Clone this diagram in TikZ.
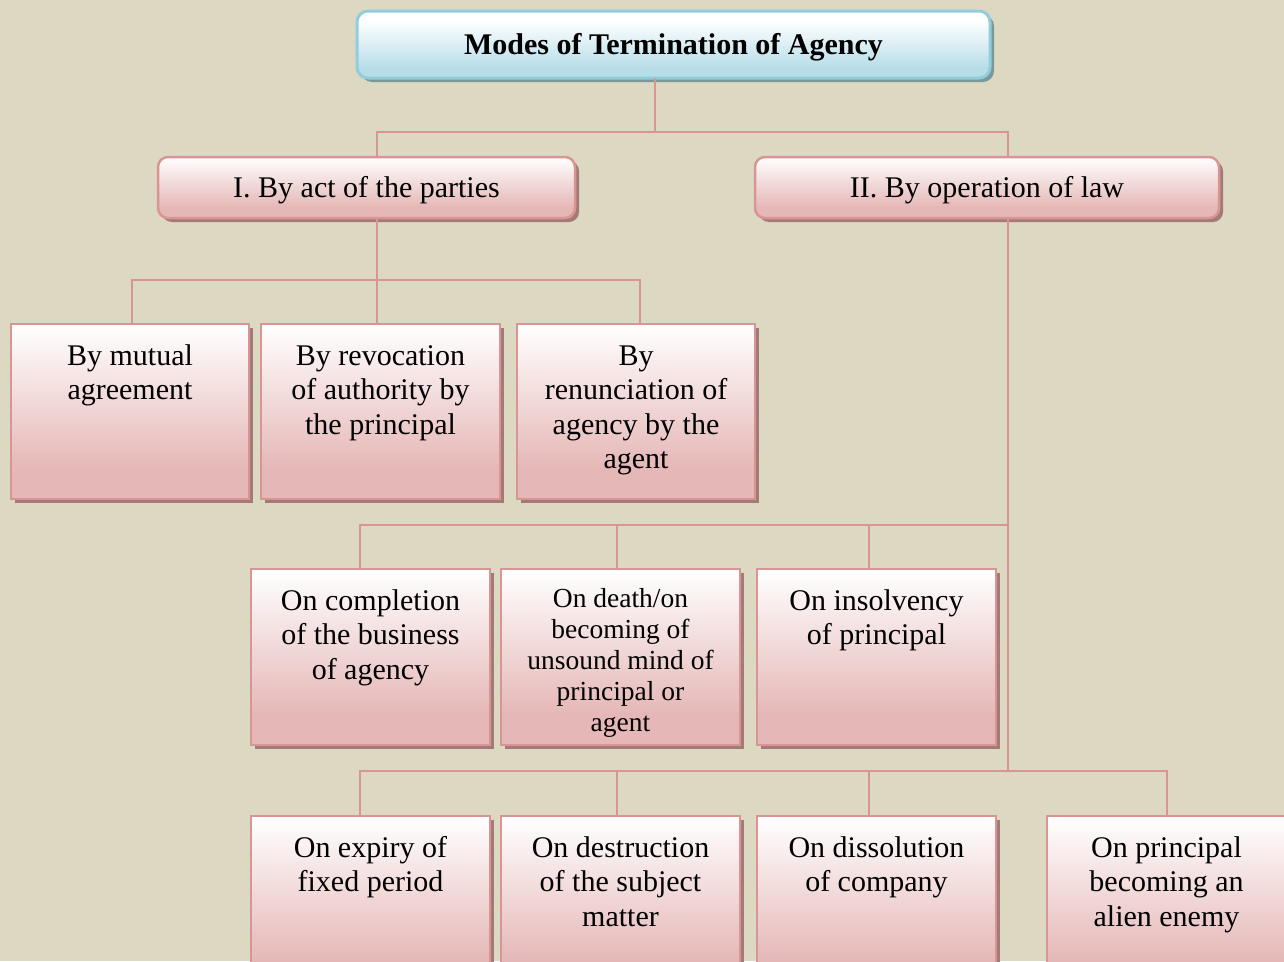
\documentclass[tikz,border=0pt]{standalone}
\usepackage{fontspec}
\setmainfont{Liberation Serif}
\usetikzlibrary{shadows}
\definecolor{bg}{RGB}{221,216,194}
\definecolor{pline}{RGB}{217,149,148}
\definecolor{pfill}{RGB}{229,184,183}
\definecolor{pshadow}{RGB}{163,122,120}
\definecolor{tline}{RGB}{146,205,220}
\definecolor{tfill}{RGB}{182,221,232}
\definecolor{tshadow}{RGB}{122,152,154}
\pgfdeclareverticalshading{pinkshade}{100bp}{color(0bp)=(pfill); color(25bp)=(pfill); color(34bp)=(pfill); color(75bp)=(white); color(100bp)=(white)}
\pgfdeclareverticalshading{blueshade}{100bp}{color(0bp)=(tfill); color(25bp)=(tfill); color(32bp)=(tfill); color(68bp)=(white); color(75bp)=(white); color(100bp)=(white)}
\newcommand{\bxt}[4]{\parbox[t][#1][t]{#2}{\centering\rule{0pt}{#3}#4\par}}
\newcommand{\lowr}[1]{\raisebox{-3pt}[\height][\depth]{#1}}
\tikzset{
  conn/.style={draw=pline, line width=2.8pt},
  rbox/.style={draw=pline, line width=2.5pt, shade, shading=pinkshade,
    inner sep=0pt, outer sep=0pt, anchor=north west,
    drop shadow={shadow xshift=4pt, shadow yshift=-4pt, fill=pshadow, opacity=1},
    font=\fontsize{30}{34.5}\selectfont},
  pbox/.style={draw=pline, line width=2.5pt, rounded corners=10pt, shade, shading=pinkshade,
    inner sep=0pt, outer sep=0pt,
    drop shadow={shadow xshift=4pt, shadow yshift=-4pt, fill=pshadow, opacity=1},
    font=\fontsize{30}{34.5}\selectfont},
  tbox/.style={draw=tline, line width=3pt, rounded corners=11pt, shade, shading=blueshade,
    inner sep=0pt, outer sep=0pt,
    drop shadow={shadow xshift=4pt, shadow yshift=-4pt, fill=tshadow, opacity=1},
    font=\fontsize{30}{34.5}\selectfont\bfseries}
}
\begin{document}
\begin{tikzpicture}[x=1pt,y=-1pt]
\fill[bg] (0,0) rectangle (1284,961);
\clip (0,0) rectangle (1284,961);
% title and second level
\node[tbox, minimum width=633pt, minimum height=67pt] (T) at (673.5,44.5) {\lowr{Modes of Termination of Agency}};
\node[pbox, minimum width=417pt, minimum height=61pt] (P1) at (366.5,187.5) {\lowr{I. By act of the parties}};
\node[pbox, minimum width=464pt, minimum height=61pt] (P2) at (987,187.5) {\lowr{II. By operation of law}};
% junction coordinates
\coordinate (j0) at (655,132);
\coordinate (b1L) at (377,132);
\coordinate (b1R) at (1008,132);
\coordinate (b2) at (377,280);
\coordinate (b2a) at (132,280);
\coordinate (b2c) at (640,280);
\coordinate (b3L) at (360,525);
\coordinate (b3E) at (617,525);
\coordinate (b3F) at (869,525);
\coordinate (b3R) at (1008,525);
\coordinate (b4L) at (360,771);
\coordinate (b4H) at (617,771);
\coordinate (b4I) at (869,771);
\coordinate (b4R) at (1167,771);
\coordinate (v3) at (1008,771);
% row 1
\node[rbox] (A) at (11,324) {\bxt{175pt}{238pt}{41pt}{By mutual\\agreement}};
\node[rbox] (B) at (261,324) {\bxt{175pt}{239pt}{41pt}{By revocation\\of authority by\\the principal}};
\node[rbox] (C) at (517,324) {\bxt{175pt}{238pt}{41pt}{By\\renunciation of\\agency by the\\agent}};
% row 2
\node[rbox] (D) at (251,569) {\bxt{176pt}{239pt}{41pt}{On completion\\of the business\\of agency}};
\node[rbox, font=\fontsize{27.5}{31}\selectfont] (E) at (501,569) {\bxt{176pt}{239pt}{38pt}{On death/on\\becoming of\\unsound mind of\\principal or\\agent}};
\node[rbox] (F) at (757,569) {\bxt{176pt}{239pt}{41pt}{On insolvency\\of principal}};
% row 3
\node[rbox] (G) at (251,816) {\bxt{176pt}{239pt}{41pt}{On expiry of\\fixed period}};
\node[rbox] (H) at (501,816) {\bxt{176pt}{239pt}{41pt}{On destruction\\of the subject\\matter}};
\node[rbox] (I) at (757,816) {\bxt{176pt}{239pt}{41pt}{On dissolution\\of company}};
\node[rbox] (J) at (1047,816) {\bxt{176pt}{239pt}{41pt}{On principal\\becoming an\\alien enemy}};
% connectors
\draw[conn] (T.south -| j0) -- (j0);
\draw[conn] (P1.north -| b1L) |- (b1R) -- (P2.north -| b1R);
\draw[conn] (P1.south -| b2) -- (B.north -| b2);
\draw[conn] (A.north -| b2a) |- (b2c) -- (C.north -| b2c);
\draw[conn] (P2.south -| v3) -- (v3);
\draw[conn] (D.north -| b3L) |- (b3R);
\draw[conn] (b3E) -- (E.north -| b3E);
\draw[conn] (b3F) -- (F.north -| b3F);
\draw[conn] (G.north -| b4L) |- (b4R) -- (J.north -| b4R);
\draw[conn] (b4H) -- (H.north -| b4H);
\draw[conn] (b4I) -- (I.north -| b4I);
\end{tikzpicture}
\end{document}
